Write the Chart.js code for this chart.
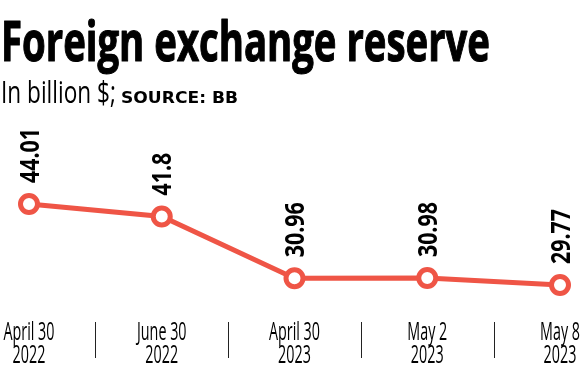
<!DOCTYPE html>
<html>
<head>
<meta charset="utf-8">
<script src="https://cdn.jsdelivr.net/npm/chart.js@4.4.1/dist/chart.umd.min.js"></script>
<style>
html,body{margin:0;padding:0;background:#fff;}
#wrap{width:582px;height:370px;position:relative;}
</style>
</head>
<body>
<div id="wrap"><canvas id="c" width="582" height="370"></canvas></div>
<script>
const titleText = "Foreign exchange reserve";
const subtitleText = "In billion $;";
const sourceText = "SOURCE: BB";
const categories = [["April 30","2022"],["June 30","2022"],["April 30","2023"],["May 2","2023"],["May 8","2023"]];
const reserveValues = [44.01, 41.8, 30.96, 30.98, 29.77];
const valueLabels = ["44.01","41.8","30.96","30.98","29.77"];

const RED = '#ef5546';
const CONDENSED = '"Open Sans", "Liberation Sans", sans-serif';

function fitScale(ctx, text, font, target){
  ctx.save(); ctx.font = font; const w = ctx.measureText(text).width; ctx.restore();
  return target / w;
}
function drawScaled(ctx, text, x, y, font, sx, align, baseline, color, strokeW){
  ctx.save();
  ctx.font = font; ctx.fillStyle = color || '#000';
  ctx.textAlign = align || 'left'; ctx.textBaseline = baseline || 'alphabetic';
  ctx.translate(x, y); ctx.scale(sx, 1);
  ctx.fillText(text, 0, 0);
  if (strokeW) { ctx.strokeStyle = color || '#000'; ctx.lineWidth = strokeW; ctx.lineJoin = 'round'; ctx.strokeText(text, 0, 0); }
  ctx.restore();
}

const decor = {
  id: 'decor',
  afterDraw(chart){
    const ctx = chart.ctx;
    // Title
    const tFont = 'bold 56px ' + CONDENSED;
    drawScaled(ctx, titleText, 1, 61, tFont, fitScale(ctx, titleText, tFont, 489), 'left', 'alphabetic', '#000', 1.2);
    // Subtitle
    const sFont = '31px ' + CONDENSED;
    drawScaled(ctx, subtitleText, 1, 103, sFont, fitScale(ctx, subtitleText, sFont, 115));
    const srcFont = 'bold 15px "DejaVu Sans", sans-serif';
    drawScaled(ctx, sourceText, 121, 103, srcFont, fitScale(ctx, sourceText, srcFont, 117));

    const xs = chart.scales.x;
    // X labels
    const lFont = '26px ' + CONDENSED;
    const lsx = fitScale(ctx, 'April 30', lFont, 51);
    categories.forEach((c, i) => {
      const px = xs.getPixelForValue(i);
      drawScaled(ctx, c[0], px, 340, lFont, lsx, 'center');
      drawScaled(ctx, c[1], px, 363, lFont, lsx, 'center');
    });
    // separators
    ctx.save();
    ctx.strokeStyle = '#222'; ctx.lineWidth = 1;
    for (let i = 0; i < categories.length - 1; i++){
      const mx = Math.round((xs.getPixelForValue(i) + xs.getPixelForValue(i+1)) / 2) + 0.5;
      ctx.beginPath(); ctx.moveTo(mx, 322); ctx.lineTo(mx, 358); ctx.stroke();
    }
    ctx.restore();

    // value labels (rotated)
    const meta = chart.getDatasetMeta(0);
    const vFont = 'bold 27px ' + CONDENSED;
    const vsx = fitScale(ctx, '44.01', vFont, 55);
    meta.data.forEach((pt, i) => {
      ctx.save();
      ctx.translate(pt.x + 2, pt.y - 21);
      ctx.rotate(-Math.PI / 2);
      ctx.scale(vsx, 1);
      ctx.font = vFont; ctx.fillStyle = '#000';
      ctx.textAlign = 'left'; ctx.textBaseline = 'middle';
      ctx.fillText(valueLabels[i], 0, 0);
      ctx.restore();
    });
  }
};

new Chart(document.getElementById('c'), {
  type: 'line',
  data: {
    labels: categories.map(c => c.join(' ')),
    datasets: [{
      data: reserveValues,
      borderColor: RED,
      borderWidth: 5,
      pointRadius: 8.5,
      pointBorderWidth: 5,
      pointBackgroundColor: '#fff',
      pointBorderColor: RED,
      tension: 0,
      clip: false
    }]
  },
  options: {
    responsive: false,
    animation: false,
    devicePixelRatio: 1,
    layout: { padding: { left: 29, right: 22, top: 120, bottom: 60 } },
    plugins: { legend: { display: false }, tooltip: { enabled: false }, title: { display: false } },
    scales: {
      x: { display: false },
      y: { display: false, min: 25.37, max: 58.78 }
    }
  },
  plugins: [decor]
});
</script>
</body>
</html>
